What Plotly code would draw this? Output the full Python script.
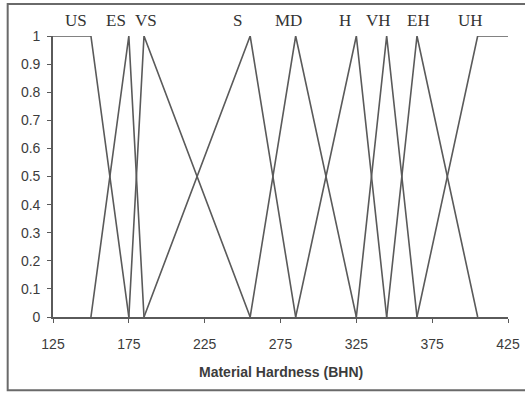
import plotly.graph_objects as go

# Membership functions for material hardness (BHN)
labels = ["US", "ES", "VS", "S", "MD", "H", "VH", "EH", "UH"]
x_points = [
    [125, 150, 175],
    [150, 175, 185],
    [175, 185, 255],
    [185, 255, 285],
    [255, 285, 325],
    [285, 325, 345],
    [325, 345, 365],
    [345, 365, 405],
    [365, 405, 425],
]
y_points = [
    [1, 1, 0],
    [0, 1, 0],
    [0, 1, 0],
    [0, 1, 0],
    [0, 1, 0],
    [0, 1, 0],
    [0, 1, 0],
    [0, 1, 0],
    [0, 1, 1],
]
label_x = [140.0, 166.7, 186.1, 246.8, 280.1, 317.3, 339.7, 365.8, 400.2]

x_ticks = [125, 175, 225, 275, 325, 375, 425]
y_ticks = [0, 0.1, 0.2, 0.3, 0.4, 0.5, 0.6, 0.7, 0.8, 0.9, 1]
y_tick_text = ["0", "0.1", "0.2", "0.3", "0.4", "0.5", "0.6", "0.7", "0.8", "0.9", "1"]

line_color = "#5a5a5a"

fig = go.Figure()
for name, xs, ys in zip(labels, x_points, y_points):
    fig.add_trace(go.Scatter(x=xs, y=ys, mode="lines", name=name,
                             line=dict(color=line_color, width=1.6),
                             cliponaxis=False, showlegend=False))

for name, lx in zip(labels, label_x):
    fig.add_annotation(x=lx, y=1.055, xref="x", yref="paper", text=name,
                       showarrow=False, xanchor="center", yanchor="middle",
                       font=dict(family="Liberation Serif, Times New Roman, serif",
                                 size=17, color="#333333"))

fig.add_annotation(x=0.5, y=-0.197, xref="paper", yref="paper",
                   text="<b>Material Hardness (BHN)</b>", showarrow=False,
                   xanchor="center", yanchor="middle",
                   font=dict(family="Liberation Sans, Arial, sans-serif",
                             size=14, color="#3c3c3c"))

# outer frame
fig.add_shape(type="rect", xref="paper", yref="paper",
              x0=-0.0996, x1=1.06, y0=-0.261, y1=1.114,
              line=dict(color="#6a6a6a", width=2), fillcolor="rgba(0,0,0,0)")

fig.update_layout(
    width=525, height=394,
    margin=dict(l=53, r=17, t=36, b=77, autoexpand=False),
    paper_bgcolor="white", plot_bgcolor="white",
    font=dict(family="Liberation Sans, Arial, sans-serif", size=14, color="#3c3c3c"),
)
fig.update_xaxes(range=[125, 425], tickvals=x_ticks, ticktext=[str(v) for v in x_ticks],
                 automargin=False,
                 showgrid=False, zeroline=False, showline=True,
                 linecolor=line_color, linewidth=1.6,
                 ticks="outside", ticklen=4, tickcolor=line_color, tickwidth=1.2,
                 ticklabelstandoff=9)
fig.update_yaxes(range=[0, 1], tickvals=y_ticks, ticktext=y_tick_text,
                 automargin=False,
                 showgrid=False, zeroline=False, showline=True,
                 linecolor=line_color, linewidth=1.6,
                 ticks="outside", ticklen=4, tickcolor=line_color, tickwidth=1.2,
                 ticklabelstandoff=4)

fig.write_html("out.html")
